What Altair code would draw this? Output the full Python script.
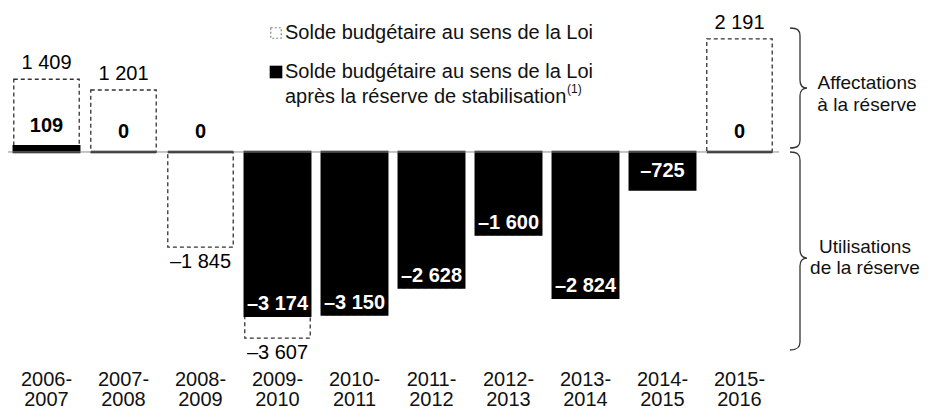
import altair as alt
import pandas as pd

years = ["2006-2007", "2007-2008", "2008-2009", "2009-2010", "2010-2011",
         "2011-2012", "2012-2013", "2013-2014", "2014-2015", "2015-2016"]
solde_loi = [1409, 1201, -1845, -3607, -3150, -2628, -1600, -2824, -725, 2191]
solde_apres = [109, 0, 0, -3174, -3150, -2628, -1600, -2824, -725, 0]

legend_labels = ["Solde budgétaire au sens de la Loi",
                 "Solde budgétaire au sens de la Loi\naprès la réserve de stabilisation"]
legend_note = "(1)"
brace_labels = ["Affectations\nà la réserve", "Utilisations\nde la réserve"]

FONT = "Liberation Sans"
FS = 20

df = pd.DataFrame({"annee": years, "loi": solde_loi, "apres": solde_apres})
one = pd.DataFrame({"k": [0]})

xenc = alt.X("annee:N", sort=years, axis=None,
             scale=alt.Scale(range=[0, 770], paddingInner=0.15, paddingOuter=0.075))
yscale = alt.Scale(domain=[-3837, 2790], range=[342, 0], nice=False, zero=False)

fmt = lambda f: f"(datum.{f} < 0 ? '\u2013' : '') + replace(format(abs(datum.{f}), ','), ',', ' ')"

base = alt.Chart(df).transform_calculate(
    lbl_loi=fmt("loi"), lbl_apres=fmt("apres"),
    ly="datum.apres > -1000 ? datum.apres / 2 : datum.apres + 233",
    lab="slice(datum.annee, 0, 5) + '\\n' + slice(datum.annee, 5)"
)

baseline = alt.Chart(one).mark_rule(color="#8c8c8c", strokeWidth=1).encode(
    y=alt.datum(0, scale=yscale), x=alt.value(0), x2=alt.value(771))

dashed = base.mark_bar(fillOpacity=0, stroke="#333333", strokeWidth=1.3,
                       strokeDash=[4, 3]).encode(
    x=xenc, y=alt.Y("loi:Q", scale=yscale, axis=None), y2=alt.datum(0))

black = base.mark_bar(color="black", stroke="black", strokeWidth=2.5).encode(
    x=xenc, y=alt.Y("apres:Q", scale=yscale, axis=None), y2=alt.datum(0))

txt = dict(font=FONT, fontSize=FS, baseline="middle", align="center")

loi_pos = base.transform_filter("datum.loi != datum.apres && datum.loi > 0").mark_text(
    dy=-16, color="black", **txt).encode(
    x=xenc, y=alt.Y("loi:Q", scale=yscale), text="lbl_loi:N")
loi_neg = base.transform_filter("datum.loi != datum.apres && datum.loi < 0").mark_text(
    dy=15, color="black", **txt).encode(
    x=xenc, y=alt.Y("loi:Q", scale=yscale), text="lbl_loi:N")
ap_pos = base.transform_filter("datum.apres >= 0").mark_text(
    dy=-20, color="black", fontWeight="bold", **txt).encode(
    x=xenc, y=alt.Y("apres:Q", scale=yscale), text="lbl_apres:N")
ap_neg = base.transform_filter("datum.apres < 0").mark_text(
    color="white", fontWeight="bold", **txt).encode(
    x=xenc, y=alt.Y("ly:Q", scale=yscale), text="lbl_apres:N")

year_lbl = base.mark_text(font=FONT, fontSize=FS, align="center", baseline="top",
                          lineBreak="\n", lineHeight=20, color="#111").encode(
    x=xenc, y=alt.value(362), text="lab:N")

# legend
leg1_icon = alt.Chart(one).mark_point(shape="square", size=110, filled=False,
                                      stroke="#555", strokeWidth=1.2,
                                      strokeDash=[2, 2]).encode(
    x=alt.value(268), y=alt.value(25))
leg2_icon = alt.Chart(one).mark_point(shape="square", size=160, filled=True,
                                      color="black", opacity=1).encode(
    x=alt.value(268), y=alt.value(64))
leg1_txt = alt.Chart(one).mark_text(font=FONT, fontSize=FS, align="left",
                                    baseline="middle", color="#111").encode(
    x=alt.value(277), y=alt.value(25), text=alt.value(legend_labels[0]))
leg2_txt = alt.Chart(one).mark_text(font=FONT, fontSize=FS, align="left",
                                    baseline="middle", lineBreak="\n",
                                    lineHeight=25, color="#111").encode(
    x=alt.value(277), y=alt.value(64), text=alt.value(legend_labels[1]))
leg2_note = alt.Chart(one).mark_text(font=FONT, fontSize=12, align="left",
                                     baseline="middle", color="#111").encode(
    x=alt.value(559), y=alt.value(81), text=alt.value(legend_note))

# braces
top_path = ("M -0.167 -1 C -0.04 -1 0 -0.96 0 -0.87 L 0 -0.13 C 0 -0.04 0.05 0 0.117 0 "
            "C 0.05 0 0 0.04 0 0.13 L 0 0.87 C 0 0.96 -0.04 1 -0.167 1")
bot_path = ("M -0.101 -1 C -0.025 -1 0 -0.975 0 -0.92 L 0 -0.01 C 0 0.045 0.03 0.071 0.071 0.071 "
            "C 0.03 0.071 0 0.097 0 0.152 L 0 0.92 C 0 0.975 -0.025 1 -0.101 1")
brace_top = alt.Chart(one).mark_point(shape=top_path, size=120 * 120, filled=False,
                                      stroke="#333", strokeWidth=1.3, opacity=1).encode(
    x=alt.value(792), y=alt.value(80))
brace_bot = alt.Chart(one).mark_point(shape=bot_path, size=198 * 198, filled=False,
                                      stroke="#333", strokeWidth=1.3, opacity=1).encode(
    x=alt.value(792), y=alt.value(243))
brace_t1 = alt.Chart(one).mark_text(font=FONT, fontSize=19, align="center",
                                    baseline="middle", lineBreak="\n", lineHeight=22,
                                    color="#111").encode(
    x=alt.value(859), y=alt.value(75), text=alt.value(brace_labels[0]))
brace_t2 = alt.Chart(one).mark_text(font=FONT, fontSize=19, align="center",
                                    baseline="middle", lineBreak="\n", lineHeight=21,
                                    color="#111").encode(
    x=alt.value(857), y=alt.value(239), text=alt.value(brace_labels[1]))

chart = alt.layer(
    dashed, black, baseline, loi_pos, loi_neg, ap_pos, ap_neg, year_lbl,
    leg1_icon, leg2_icon, leg1_txt, leg2_txt, leg2_note,
    brace_top, brace_bot, brace_t1, brace_t2
).properties(
    width=916, height=402, padding=0,
    autosize=alt.AutoSizeParams(type="none")
).configure_view(stroke=None).resolve_scale(x="shared", y="shared")

chart.save("out.html", embed_options={"renderer": "svg", "actions": False})
